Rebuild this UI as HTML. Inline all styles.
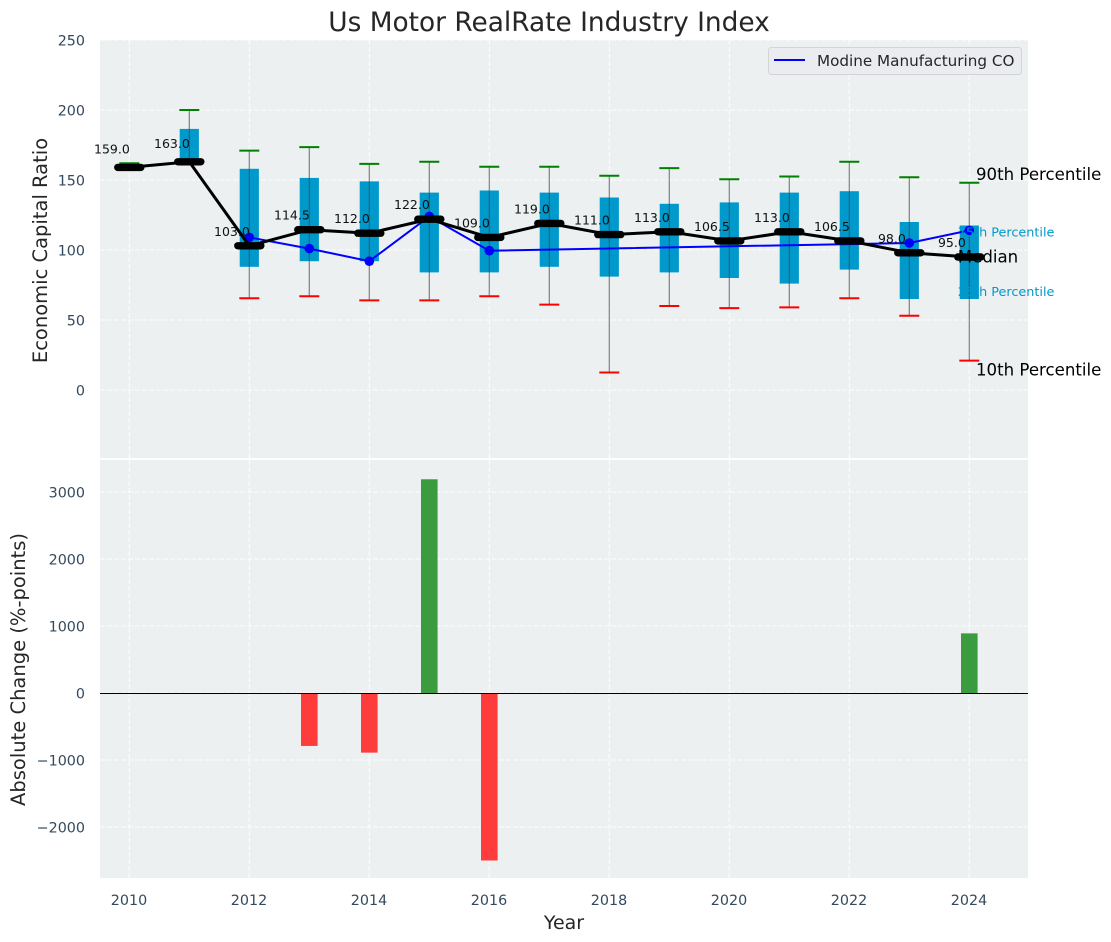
<!DOCTYPE html>
<html>
<head>
<meta charset="utf-8">
<title>Us Motor RealRate Industry Index</title>
<style>
html,body{margin:0;padding:0;background:#fff;}
svg{display:block;font-family:"DejaVu Sans","Liberation Sans",sans-serif;}
</style>
</head>
<body>
<svg id="chart" width="1111" height="942" viewBox="0 0 1111 942" xmlns="http://www.w3.org/2000/svg">
  <rect x="100" y="40" width="928" height="418" fill="#ecf0f1"/>
  <rect x="100" y="460" width="928" height="418" fill="#ecf0f1"/>
  <g id="grid"></g>
  <g id="bars"></g>
  <g id="boxes"></g>
  <g id="series"></g>
  <g id="ticks"></g>
  <g id="labels"></g>
  <text x="549" y="31" font-size="26.4" text-anchor="middle" fill="#262626">Us Motor RealRate Industry Index</text>
  <text transform="translate(47,250.5) rotate(-90)" font-size="19.5" text-anchor="middle" fill="#262626">Economic Capital Ratio</text>
  <text transform="translate(25,669.5) rotate(-90)" font-size="19.5" text-anchor="middle" fill="#262626">Absolute Change (%-points)</text>
  <text x="564" y="929" font-size="19" text-anchor="middle" fill="#262626">Year</text>
  <g>
    <rect x="768.5" y="47.5" width="253" height="27" rx="3" fill="#eaecf0" stroke="#d2d4d6" stroke-width="1"/>
    <line x1="774" x2="805" y1="60" y2="60" stroke="#0000ff" stroke-width="2"/>
    <text x="817" y="66" font-size="15.2" fill="#262626">Modine Manufacturing CO</text>
  </g>
</svg>
<script>
const years = [2010,2011,2012,2013,2014,2015,2016,2017,2018,2019,2020,2021,2022,2023,2024];
const whiskerHigh = [162,200,171,173.5,161.5,163,159.5,159.5,153,158.5,150.5,152.5,163,152,148];
const whiskerLow = [159,163,65.5,67,64,64,67,61,12.5,60,58.5,59,65.5,53,21];
const q3 = [159,186.5,158,151.5,149,141,142.5,141,137.5,133,134,141,142,120,117.5];
const q1 = [159,163,88,92,92,84,84,88,81,84,80,76,86,65,65];
const medians = [159,163,103,114.5,112,122,109,119,111,113,106.5,113,106.5,98,95];
const company = [null,null,109,101,92,124,99.5,null,null,null,null,null,null,105,114];
const changes = [null,null,null,-790,-890,3190,-2500,null,null,null,null,null,null,null,890];
const xTickLabels = [2010,2012,2014,2016,2018,2020,2022,2024];
const topTickLabels = [0,50,100,150,200,250];
const bottomTickLabels = [-2000,-1000,0,1000,2000,3000];

const NS = 'http://www.w3.org/2000/svg';
const xS = v => 129.3 + (v - 2010) * 60;
const yT = v => 390 - v * 1.4;
const yB = v => 693 - v * 0.067;

function mk(parent, tag, attrs, text) {
  const el = document.createElementNS(NS, tag);
  for (const k in attrs) el.setAttribute(k, attrs[k]);
  if (text !== undefined) el.textContent = text;
  document.getElementById(parent).appendChild(el);
  return el;
}

/* gridlines */
xTickLabels.forEach(v => {
  const a = mk('grid', 'line', {x1: xS(v), x2: xS(v), y1: 40, y2: 458, stroke: '#fff', 'stroke-width': 1, 'stroke-dasharray': '5 2', opacity: 0.9});
  
  
  const b = mk('grid', 'line', {x1: xS(v), x2: xS(v), y1: 460, y2: 878, stroke: '#fff', 'stroke-width': 1, 'stroke-dasharray': '5 2', opacity: 0.9});
  
  
  const t = mk('ticks', 'text', {x: xS(v) - 0.3, y: 905, 'font-size': 14.3, 'text-anchor': 'middle', fill: '#34495e'}, String(v));
  
  
});
topTickLabels.forEach(v => {
  const a = mk('grid', 'line', {x1: 100, x2: 1028, y1: yT(v), y2: yT(v), stroke: '#fff', 'stroke-width': 1, 'stroke-dasharray': '5 2', opacity: 0.9});
  
  
  const t = mk('ticks', 'text', {x: 85, y: yT(v) + 5.3, 'font-size': 14.3, 'text-anchor': 'end', fill: '#34495e'}, String(v));
  
  
});
bottomTickLabels.forEach(v => {
  const a = mk('grid', 'line', {x1: 100, x2: 1028, y1: yB(v), y2: yB(v), stroke: '#fff', 'stroke-width': 1, 'stroke-dasharray': '5 2', opacity: 0.9});
  
  
  const t = mk('ticks', 'text', {x: 85, y: yB(v) + 5.3, 'font-size': 14.3, 'text-anchor': 'end', fill: '#34495e'}, String(v).replace('-', '\u2212'));
  
  
});

/* change bars */
changes.forEach((v, i) => {
  if (v === null) return;
  const top = Math.min(yB(v), yB(0));
  const r = mk('bars', 'rect', {x: xS(years[i]) - 8.3, y: top, width: 16.6, height: Math.abs(yB(v) - yB(0)), fill: v >= 0 ? '#3a9c3f' : '#ff3c3c'});
  
  
});
const zero = mk('bars', 'line', {x1: 100, x2: 1028, y1: yB(0) + 0.5, y2: yB(0) + 0.5, stroke: '#000', 'stroke-width': 1.1});



/* boxes and whiskers */
years.forEach((yr, i) => {
  const x = xS(yr);
  if (q3[i] > q1[i]) {
    const b = mk('boxes', 'rect', {x: x - 9.6, y: yT(q3[i]), width: 19.2, height: yT(q1[i]) - yT(q3[i]), fill: '#0099cc'});
    
    
  }
  const w = mk('boxes', 'line', {x1: x, x2: x, y1: yT(whiskerHigh[i]), y2: yT(whiskerLow[i]), stroke: '#444', 'stroke-width': 1.2, opacity: 0.65});
  
  
  const h = mk('boxes', 'line', {x1: x - 10, x2: x + 10, y1: yT(whiskerHigh[i]), y2: yT(whiskerHigh[i]), stroke: '#008000', 'stroke-width': 2});
  
  
  const l = mk('boxes', 'line', {x1: x - 10, x2: x + 10, y1: yT(whiskerLow[i]), y2: yT(whiskerLow[i]), stroke: '#ff0000', 'stroke-width': 2});
  
  
});

/* company line */
const pts = [];
company.forEach((v, i) => { if (v !== null) pts.push(xS(years[i]) + ',' + yT(v)); });
const cl = mk('series', 'polyline', {points: pts.join(' '), fill: 'none', stroke: '#0000ff', 'stroke-width': 2});


company.forEach((v, i) => {
  if (v === null) return;
  const c = mk('series', 'circle', {cx: xS(years[i]), cy: yT(v), r: 4.8, fill: '#0000ff'});
  
  
});

/* median line */
const ml = mk('series', 'polyline', {points: medians.map((v, i) => xS(years[i]) + ',' + yT(v)).join(' '), fill: 'none', stroke: '#000', 'stroke-width': 3});


medians.forEach((v, i) => {
  const x = xS(years[i]);
  const m = mk('series', 'line', {x1: x - 11.5, x2: x + 11.5, y1: yT(v), y2: yT(v), stroke: '#000', 'stroke-width': 7.4, 'stroke-linecap': 'round'});
  
  
  const t = mk('labels', 'text', {x: x - 17.4, y: yT(v) - (i < 2 ? 14 : 10), 'font-size': 12.5, 'text-anchor': 'middle', fill: '#111'}, v.toFixed(1));
  
  
});

/* percentile annotations beside the last box */
const last = years.length - 1;
const lx = xS(years[last]);
const p90 = mk('labels', 'text', {x: lx + 6.7, y: yT(whiskerHigh[last]) - 3, 'font-size': 16.6, fill: '#000'}, '90th Percentile');


const p75 = mk('labels', 'text', {x: lx - 11.5, y: yT(q3[last]) + 11, 'font-size': 12.8, fill: '#0099cc'}, '75th Percentile');


const pMed = mk('labels', 'text', {x: lx - 11.5, y: yT(medians[last]) + 5.5, 'font-size': 16.6, fill: '#000'}, 'Median');


const p25 = mk('labels', 'text', {x: lx - 11.5, y: yT(q1[last]) - 3, 'font-size': 12.8, fill: '#0099cc'}, '25th Percentile');


const p10 = mk('labels', 'text', {x: lx + 6.7, y: yT(whiskerLow[last]) + 15, 'font-size': 16.6, fill: '#000'}, '10th Percentile');


</script>
</body>
</html>
